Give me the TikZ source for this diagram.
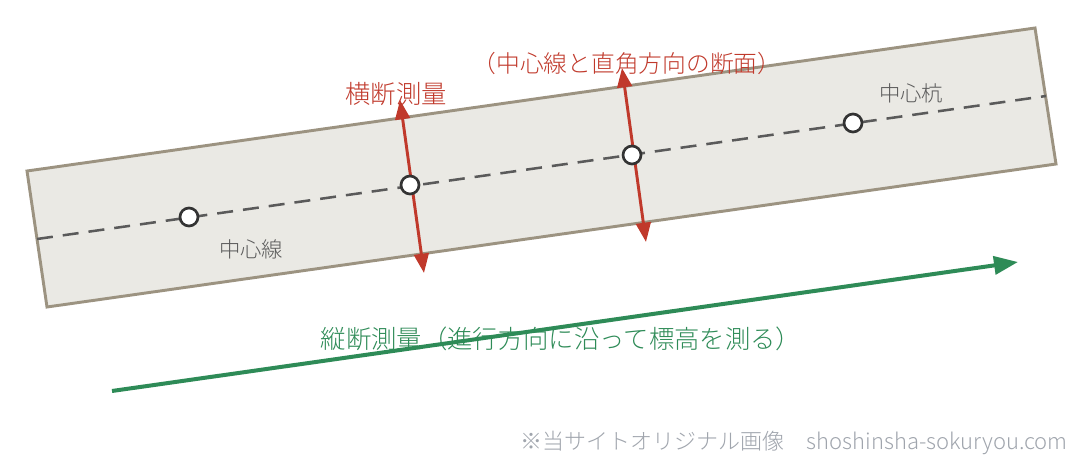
\documentclass[tikz,border=0pt]{standalone}
\usepackage{fontspec}
\setmainfont{Noto Sans CJK JP Light}
\usepackage{tikz}
\usetikzlibrary{arrows.meta}
\usetikzlibrary{positioning}

\definecolor{cutred}{HTML}{C0392B}
\definecolor{stripfill}{HTML}{EAE9E4}
\definecolor{stripline}{HTML}{9C9381}
\definecolor{stakegray}{HTML}{333333}
\definecolor{labelgray}{HTML}{5A5A5A}
\definecolor{longgreen}{HTML}{2E8B57}
\definecolor{notegray}{HTML}{A0A5AD}

\begin{document}
\begin{tikzpicture}[x=0.75pt, y=-0.75pt,
    stakenode/.style={circle, draw=stakegray, fill=white, line width=2pt, minimum size=13.5pt, inner sep=0pt},
    cutarrow/.style={draw=cutred, line width=2.2pt, {Triangle[length=14.5pt, width=11pt]}-{Triangle[length=14.5pt, width=11pt]}},
    longarrow/.style={draw=longgreen, line width=3pt, -{Triangle[length=18pt, width=13.5pt]}},
    graylabel/.style={text=labelgray, font=\fontsize{16}{18}\selectfont, inner sep=0pt}]
        \useasboundingbox (0,0) rectangle (1084,467);

        % road strip
        \draw[fill=stripfill, draw=stripline, line width=2.2pt] (27,171) -- (1035,28) -- (1056,164) -- (47,307) -- cycle;

        % centre line
        \coordinate (clstart) at (37,239);
        \coordinate (clend) at (1046,96);
        \draw[draw=labelgray, line width=1.9pt, dash pattern=on 12pt off 7.5pt] (clstart) -- (clend);

        % cross sections
        \coordinate (cut1top) at (400,100);
        \coordinate (cut1bot) at (424,273);
        \coordinate (cut2top) at (622,68);
        \coordinate (cut2bot) at (646,242);
        \draw[cutarrow] (cut1top) -- (cut1bot);
        \draw[cutarrow] (cut2top) -- (cut2bot);

        \node[stakenode] (stake1) at (189,217) {};
        \node[stakenode] (stake2) at (410,185) {};
        \node[stakenode] (stake3) at (632,155) {};
        \node[stakenode] (stake4) at (853,123) {};

        \node[graylabel] (centerline) at (251,249) {中心線};
        \node[graylabel] (centerstake) at (911,93) {中心杭};

        \node[text=cutred, font=\fontsize{19}{21}\selectfont, inner sep=0pt] (crosstitle) at (396,94) {横断測量};
        \node[text=cutred, font=\fontsize{17.8}{19}\selectfont, inner sep=0pt] (crossnote) at (627,63) {（中心線と直角方向の断面）};

        % profile
        \node[text=longgreen, font=\fontsize{19}{21}\selectfont, inner sep=0pt] (longtitle) at (561,339) {縦断測量（進行方向に沿って標高を測る）};
        \coordinate (longstart) at (112,391);
        \coordinate (longend) at (1018,262);
        \draw[longarrow] (longstart) -- (longend);

        \node[text=notegray, font=\fontsize{16.5}{18}\selectfont, inner sep=0pt, anchor=east] (note) at (1068,443) {※当サイトオリジナル画像　shoshinsha-sokuryou.com};

    \end{tikzpicture}
\end{document}
